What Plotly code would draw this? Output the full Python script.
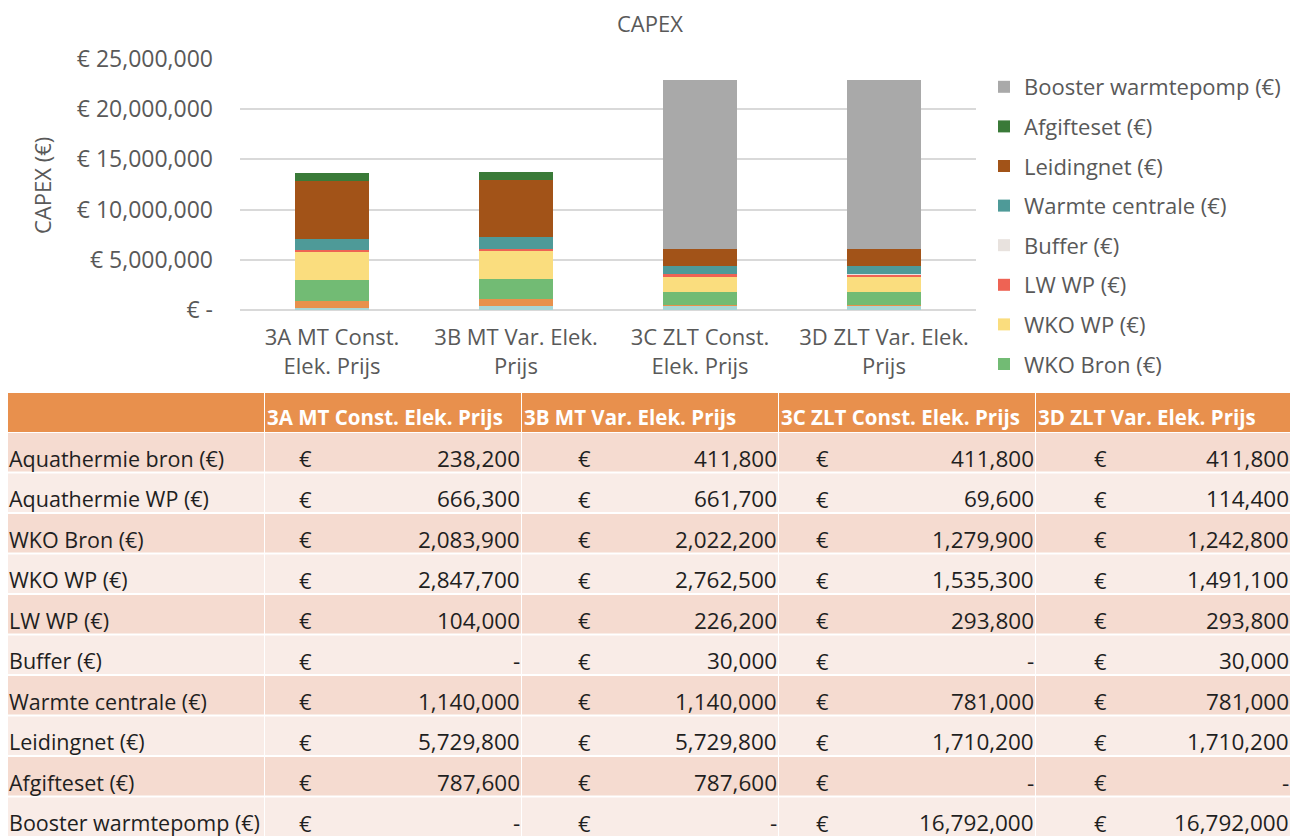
import plotly.graph_objects as go

# page body has an 8px margin, so the figure starts at (8, 8) on screen
OX, OY = 8, 8
FW, FH = 1296, 830

# ---- data ----
scenarios = ["3A MT Const. Elek. Prijs", "3B MT Var. Elek. Prijs",
             "3C ZLT Const. Elek. Prijs", "3D ZLT Var. Elek. Prijs"]
scenario_ticks = ["3A MT Const.<br>Elek. Prijs", "3B MT Var. Elek.<br>Prijs",
                  "3C ZLT Const.<br>Elek. Prijs", "3D ZLT Var. Elek.<br>Prijs"]

posts = ["Aquathermie bron (€)", "Aquathermie WP (€)", "WKO Bron (€)", "WKO WP (€)",
         "LW WP (€)", "Buffer (€)", "Warmte centrale (€)", "Leidingnet (€)",
         "Afgifteset (€)", "Booster warmtepomp (€)"]

aquathermie_bron = [238200, 411800, 411800, 411800]
aquathermie_wp = [666300, 661700, 69600, 114400]
wko_bron = [2083900, 2022200, 1279900, 1242800]
wko_wp = [2847700, 2762500, 1535300, 1491100]
lw_wp = [104000, 226200, 293800, 293800]
buffer = [0, 30000, 0, 30000]
warmte_centrale = [1140000, 1140000, 781000, 781000]
leidingnet = [5729800, 5729800, 1710200, 1710200]
afgifteset = [787600, 787600, 0, 0]
booster = [0, 0, 16792000, 16792000]

series = [aquathermie_bron, aquathermie_wp, wko_bron, wko_wp, lw_wp,
          buffer, warmte_centrale, leidingnet, afgifteset, booster]
colors = ["#A8D6D6", "#E8914C", "#72BB74", "#FADD7E", "#EE6354",
          "#E8E2DE", "#4E9A98", "#A25318", "#3A7A38", "#A9A9A9"]
in_legend = [False, False, True, True, True, True, True, True, True, True]

ytick_vals = [0, 5e6, 10e6, 15e6, 20e6, 25e6]
ytick_text = ["€ -", "€ 5,000,000", "€ 10,000,000", "€ 15,000,000",
              "€ 20,000,000", "€ 25,000,000"]

FONT = "Open Sans"
GREY = "#595959"
INK = "#1F1F1F"


def px(x):
    # screen pixel -> paper fraction
    return (x - OX) / FW


def py(y):
    return 1 - (y - OY) / FH


fig = go.Figure()
for i, (name, vals) in enumerate(zip(posts, series)):
    fig.add_trace(go.Bar(x=scenarios, y=vals, name=name,
                         marker=dict(color=colors[i], line=dict(width=0)),
                         showlegend=in_legend[i], legendgroup=str(i),
                         legendrank=100 - i))

# ---- table (drawn with shapes + annotations) ----
shapes = []
annots = []
col_edges = [(8, 264), (265, 521), (522, 778), (779, 1035), (1036, 1290)]
euro_off = [40, 62, 43, 64]
head_top, head_bot = 393, 432
row_h = 40.5

for (x0, x1) in col_edges:
    shapes.append(dict(type="rect", xref="paper", yref="paper",
                       x0=px(x0), x1=px(x1), y0=py(head_bot), y1=py(head_top),
                       fillcolor="#E8904D", line=dict(width=0), layer="below"))
for j, sc in enumerate(scenarios):
    x0, x1 = col_edges[j + 1]
    annots.append(dict(text="<b>" + sc + "</b>", xref="paper", yref="paper",
                       x=px(x0), y=py(head_bot + 1), xanchor="left", yanchor="bottom",
                       showarrow=False, font=dict(family=FONT, size=20.5, color="white")))


def fmt(v):
    return "-" if v == 0 else f"{v:,.0f}"


for r, (name, vals) in enumerate(zip(posts, series)):
    top = head_bot + 1 + r * row_h
    bot = min(top + row_h - 2, 840)
    fill = "#F5DBD0" if r % 2 == 0 else "#F9ECE7"
    for (x0, x1) in col_edges:
        shapes.append(dict(type="rect", xref="paper", yref="paper",
                           x0=px(x0), x1=px(x1), y0=py(bot), y1=py(top),
                           fillcolor=fill, line=dict(width=0), layer="below"))
    yc = py(top + row_h / 2 + 5)
    annots.append(dict(text=name, xref="paper", yref="paper", x=px(7), y=yc,
                       xanchor="left", yanchor="middle", showarrow=False,
                       font=dict(family=FONT, size=21.5, color=INK)))
    for j, v in enumerate(vals):
        x0, x1 = col_edges[j + 1]
        annots.append(dict(text="€", xref="paper", yref="paper", x=px(x0 + euro_off[j]), y=yc,
                           xanchor="center", yanchor="middle", showarrow=False,
                           font=dict(family=FONT, size=22, color=INK)))
        annots.append(dict(text=fmt(v), xref="paper", yref="paper", x=px(x1 + 1), y=yc,
                           xanchor="right", yanchor="middle", showarrow=False,
                           font=dict(family=FONT, size=22.5, color=INK)))

# axis title and chart title
annots.append(dict(text="CAPEX (€)", xref="paper", yref="paper", x=px(42), y=py(186),
                   textangle=-90, showarrow=False, xanchor="center", yanchor="middle",
                   font=dict(family=FONT, size=22, color=GREY)))
annots.append(dict(text="CAPEX", xref="paper", yref="paper", x=px(650), y=py(23),
                   showarrow=False, xanchor="center", yanchor="middle",
                   font=dict(family=FONT, size=22, color=GREY)))

fig.update_layout(
    width=FW, height=FH,
    margin=dict(l=0, r=0, t=0, b=0, autoexpand=False),
    paper_bgcolor="white", plot_bgcolor="white",
    barmode="stack", bargap=0.6,
    font=dict(family=FONT, color=GREY),
    xaxis=dict(domain=[px(240), px(976)], tickvals=scenarios, ticktext=scenario_ticks,
               tickfont=dict(size=22, color=GREY), showline=False, ticks="",
               ticklabelstandoff=12, automargin=False),
    yaxis=dict(domain=[py(310), py(59)], range=[0, 25e6], tickvals=ytick_vals,
               ticktext=ytick_text, tickfont=dict(size=23, color=GREY),
               gridcolor="#D9D9D9", gridwidth=1.5, zeroline=True, zerolinecolor="#D9D9D9",
               zerolinewidth=1.5, ticklabelstandoff=26, automargin=False),
    legend=dict(x=px(984), y=py(66), xanchor="left", yanchor="top",
                traceorder="grouped", tracegroupgap=8,
                font=dict(family=FONT, size=22, color=GREY), itemwidth=30),
    shapes=shapes, annotations=annots,
)

fig.write_html("out.html")
